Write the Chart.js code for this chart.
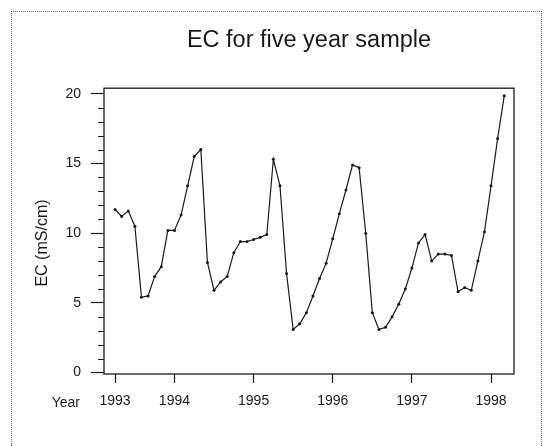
<!DOCTYPE html>
<html>
<head>
<meta charset="utf-8">
<script src="https://cdn.jsdelivr.net/npm/chart.js@4"></script>
<style>
  html, body { margin: 0; padding: 0; background: #fff; }
  #wrap { position: relative; width: 547px; height: 446px; overflow: hidden; }
  #frame { position: absolute; left: 11px; top: 11px; width: 529px; height: 460px;
           border: 1px dotted #666; border-bottom: none; }
  canvas { position: absolute; left: 0; top: 0; }
</style>
</head>
<body>
<div id="wrap">
  <div id="frame"></div>
  <canvas id="chart" width="547" height="446"></canvas>
</div>
<script>
// monthly samples, Apr 1993 .. Mar 1998
const months = [
    '1993-04', '1993-05', '1993-06', '1993-07', '1993-08', '1993-09', '1993-10', '1993-11', '1993-12',
    '1994-01', '1994-02', '1994-03', '1994-04', '1994-05', '1994-06', '1994-07', '1994-08', '1994-09', '1994-10', '1994-11', '1994-12',
    '1995-01', '1995-02', '1995-03', '1995-04', '1995-05', '1995-06', '1995-07', '1995-08', '1995-09', '1995-10', '1995-11', '1995-12',
    '1996-01', '1996-02', '1996-03', '1996-04', '1996-05', '1996-06', '1996-07', '1996-08', '1996-09', '1996-10', '1996-11', '1996-12',
    '1997-01', '1997-02', '1997-03', '1997-04', '1997-05', '1997-06', '1997-07', '1997-08', '1997-09', '1997-10', '1997-11', '1997-12',
    '1998-01', '1998-02', '1998-03',
];
const ecValues = [
    11.7, 11.2, 11.6, 10.5, 5.4, 5.5, 6.9, 7.6, 10.2,
    10.2, 11.3, 13.4, 15.5, 16.0, 7.9, 5.9, 6.5, 6.9, 8.6, 9.4, 9.4,
    9.55, 9.7, 9.9, 15.3, 13.4, 7.1, 3.1, 3.5, 4.3, 5.5, 6.75, 7.85,
    9.6, 11.4, 13.1, 14.9, 14.7, 10.0, 4.3, 3.1, 3.25, 4.0, 4.9, 6.0,
    7.5, 9.3, 9.9, 8.0, 8.5, 8.5, 8.4, 5.8, 6.1, 5.9, 8.0, 10.1,
    13.4, 16.8, 19.85,
];
const xTickPos = [1993.25, 1994, 1995, 1996, 1997, 1998];
const xTickLabels = ['1993', '1994', '1995', '1996', '1997', '1998'];
const yTicks = [0, 5, 10, 15, 20];

const INK = '#1a1a1a';
const FONT = '"Liberation Sans", Arial, Helvetica, sans-serif';

function toYear(m) {
    const [y, mo] = m.split('-').map(Number);
    return y + (mo - 1) / 12;
}

const points = months.map((m, i) => ({ x: toYear(m), y: ecValues[i] }));

/* caixa do gráfico, ticks menores, "Year" e título do eixo y */
const framePlugin = {
    id: 'frame',
    afterDraw(chart) {
        const { ctx, chartArea: a, scales } = chart;
        ctx.save();
        ctx.strokeStyle = INK;
        ctx.lineWidth = 1.3;
        ctx.strokeRect(a.left, a.top, a.right - a.left, a.bottom - a.top);

        ctx.lineWidth = 1;
        for (let v = 0; v <= 20; v++) {
            if (v % 5 === 0) continue;
            const y = Math.round(scales.y.getPixelForValue(v)) + 0.5;
            ctx.beginPath();
            ctx.moveTo(a.left - 6, y);
            ctx.lineTo(a.left, y);
            ctx.stroke();
        }

        ctx.fillStyle = INK;
        ctx.font = '14px ' + FONT;
        ctx.textAlign = 'right';
        ctx.textBaseline = 'middle';
        ctx.fillText('Year', 80, a.bottom + 29);

        ctx.translate(43, 243);
        ctx.rotate(-Math.PI / 2);
        ctx.textAlign = 'center';
        ctx.font = '16px ' + FONT;
        ctx.fillText('EC (mS/cm)', 0, 0);
        ctx.restore();
    },
};

new Chart(document.getElementById('chart'), {
    type: 'line',
    data: {
        datasets: [{
            data: points,
            borderColor: INK,
            borderWidth: 1.2,
            pointRadius: 1.5,
            pointBackgroundColor: INK,
            pointBorderWidth: 0,
            tension: 0,
        }],
    },
    options: {
        responsive: false,
        animation: false,
        layout: { padding: { left: 0, right: 33, top: 0, bottom: 0 } },
        plugins: {
            legend: { display: false },
            tooltip: { enabled: false },
            title: {
                display: true,
                fullSize: false,
                text: 'EC for five year sample',
                color: INK,
                font: { family: FONT, size: 23.5, weight: 'normal' },
                padding: { top: 26, bottom: 34 },
            },
        },
        scales: {
            x: {
                type: 'linear',
                min: 1993.11,
                max: 1998.29,
                border: { display: false },
                grid: { drawOnChartArea: false, tickLength: 9, tickColor: INK, tickWidth: 1.2 },
                afterBuildTicks: (sc) => { sc.ticks = xTickPos.map(v => ({ value: v })); },
                afterFit: (sc) => { sc.height = 72; },
                ticks: {
                    color: INK,
                    padding: 10,
                    maxRotation: 0,
                    font: { family: FONT, size: 14 },
                    callback: (v, i) => xTickLabels[i],
                },
            },
            y: {
                min: -0.1,
                max: 20.4,
                border: { display: false },
                grid: { drawOnChartArea: false, tickLength: 13, tickColor: INK, tickWidth: 1.2 },
                afterBuildTicks: (sc) => { sc.ticks = yTicks.map(v => ({ value: v })); },
                afterFit: (sc) => { sc.width = 104; },
                ticks: {
                    color: INK,
                    padding: 10,
                    font: { family: FONT, size: 14 },
                },
            },
        },
    },
    plugins: [framePlugin],
});
</script>
</body>
</html>
